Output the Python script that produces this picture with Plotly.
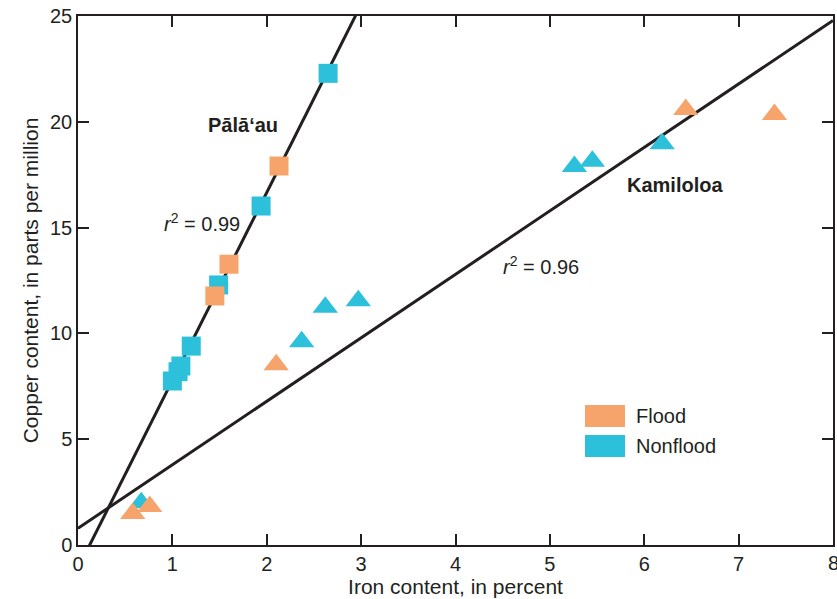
import plotly.graph_objects as go

# Pālāʻau (squares)
pal_flood_x = [1.45, 1.60, 2.13]
pal_flood_y = [11.77, 13.27, 17.91]
pal_nonflood_x = [1.00, 1.06, 1.09, 1.20, 1.49, 1.94, 2.65]
pal_nonflood_y = [7.75, 8.19, 8.46, 9.40, 12.29, 16.02, 22.29]

# Kamiloloa (triangles)
kam_flood_x = [0.58, 0.76, 2.10, 6.44, 7.38]
kam_flood_y = [1.49, 1.82, 8.52, 20.58, 20.34]
kam_nonflood_x = [0.67, 2.37, 2.62, 2.97, 5.26, 5.45, 6.19]
kam_nonflood_y = [2.00, 9.60, 11.24, 11.54, 17.89, 18.13, 18.96]

# regression lines (slope, intercept)
pal_fit = (8.88, -1.10)
kam_fit = (3.00, 0.79)
line_x = [0, 8]

x_ticks = [0, 1, 2, 3, 4, 5, 6, 7, 8]
y_ticks = [0, 5, 10, 15, 20, 25]

ORANGE = "#F6A46C"
CYAN = "#2CC0DA"
DARK = "#231F20"
FONT = "Liberation Sans, Arial, sans-serif"

fig = go.Figure()

for (m, b) in (pal_fit, kam_fit):
    fig.add_trace(go.Scatter(x=line_x, y=[m * x + b for x in line_x], mode="lines",
                             line=dict(color=DARK, width=3), showlegend=False, hoverinfo="skip"))

fig.add_trace(go.Scatter(x=kam_nonflood_x, y=kam_nonflood_y, mode="markers",
                         marker=dict(symbol="triangle-up", size=22, color=CYAN, line=dict(width=0)),
                         showlegend=False))
fig.add_trace(go.Scatter(x=pal_nonflood_x, y=pal_nonflood_y, mode="markers",
                         marker=dict(symbol="square", size=19, color=CYAN, line=dict(width=0)),
                         showlegend=False))
fig.add_trace(go.Scatter(x=kam_flood_x, y=kam_flood_y, mode="markers",
                         marker=dict(symbol="triangle-up", size=22, color=ORANGE, line=dict(width=0)),
                         showlegend=False))
fig.add_trace(go.Scatter(x=pal_flood_x, y=pal_flood_y, mode="markers",
                         marker=dict(symbol="square", size=19, color=ORANGE, line=dict(width=0)),
                         showlegend=False))

L, R, T, B = 78, 4, 16, 54
PW, PH = 837 - L - R, 599 - T - B

# legend built from shapes + text
legend_items = [("Flood", ORANGE), ("Nonflood", CYAN)]
for i, (label, col) in enumerate(legend_items):
    top = 405 + i * 30
    fig.add_shape(type="rect", xref="paper", yref="paper",
                  x0=(585 - L) / PW, x1=(625 - L) / PW,
                  y0=(599 - B - (top + 22)) / PH, y1=(599 - B - top) / PH,
                  fillcolor=col, line=dict(width=0))
    fig.add_annotation(xref="paper", yref="paper", x=(634 - L) / PW, y=(599 - B - (top + 11)) / PH,
                       text=label, showarrow=False, xanchor="left", yanchor="middle",
                       font=dict(family=FONT, size=20, color=DARK))

annots = [
    (1.745, 19.85, "<b>Pālāʻau</b>"),
    (1.31, 15.22, "<i>r</i><sup>2</sup> = 0.99"),
    (6.33, 17.01, "<b>Kamiloloa</b>"),
    (4.91, 13.23, "<i>r</i><sup>2</sup> = 0.96"),
]
for x, y, t in annots:
    fig.add_annotation(x=x, y=y, text=t, showarrow=False, xanchor="center", yanchor="middle",
                       font=dict(family=FONT, size=20, color=DARK))

# last x tick label (runs past the page edge in the reference, so plotly would drop it)
fig.add_annotation(x=x_ticks[-1], y=0, yref="y", xref="x", text=str(x_ticks[-1]), showarrow=False,
                   xanchor="center", yanchor="top", yshift=-5,
                   font=dict(family=FONT, size=20, color=DARK))

axis_common = dict(showgrid=False, zeroline=False, showline=True, linecolor=DARK, linewidth=1.5,
                   mirror="ticks", ticks="inside", ticklen=11, tickwidth=1.5, tickcolor=DARK,
                   automargin=False,
                   tickfont=dict(family=FONT, size=20, color=DARK))

fig.update_xaxes(range=[0, 8], tickvals=x_ticks, ticktext=[str(v) for v in x_ticks],
                 title=dict(text="Iron content, in percent", font=dict(family=FONT, size=21, color=DARK),
                            standoff=2), **axis_common)
fig.update_yaxes(range=[0, 25], tickvals=y_ticks, ticktext=[str(v) for v in y_ticks],
                 title=dict(text="Copper content, in parts per million",
                            font=dict(family=FONT, size=21, color=DARK), standoff=6), **axis_common)

fig.update_layout(width=837, height=599, margin=dict(l=L, r=R, t=T, b=B, autoexpand=False),
                  plot_bgcolor="white", paper_bgcolor="white", showlegend=False)

fig.write_html("out.html", config={"displayModeBar": False},
               post_script="document.body.style.margin='0px';document.body.style.overflow='hidden';")
